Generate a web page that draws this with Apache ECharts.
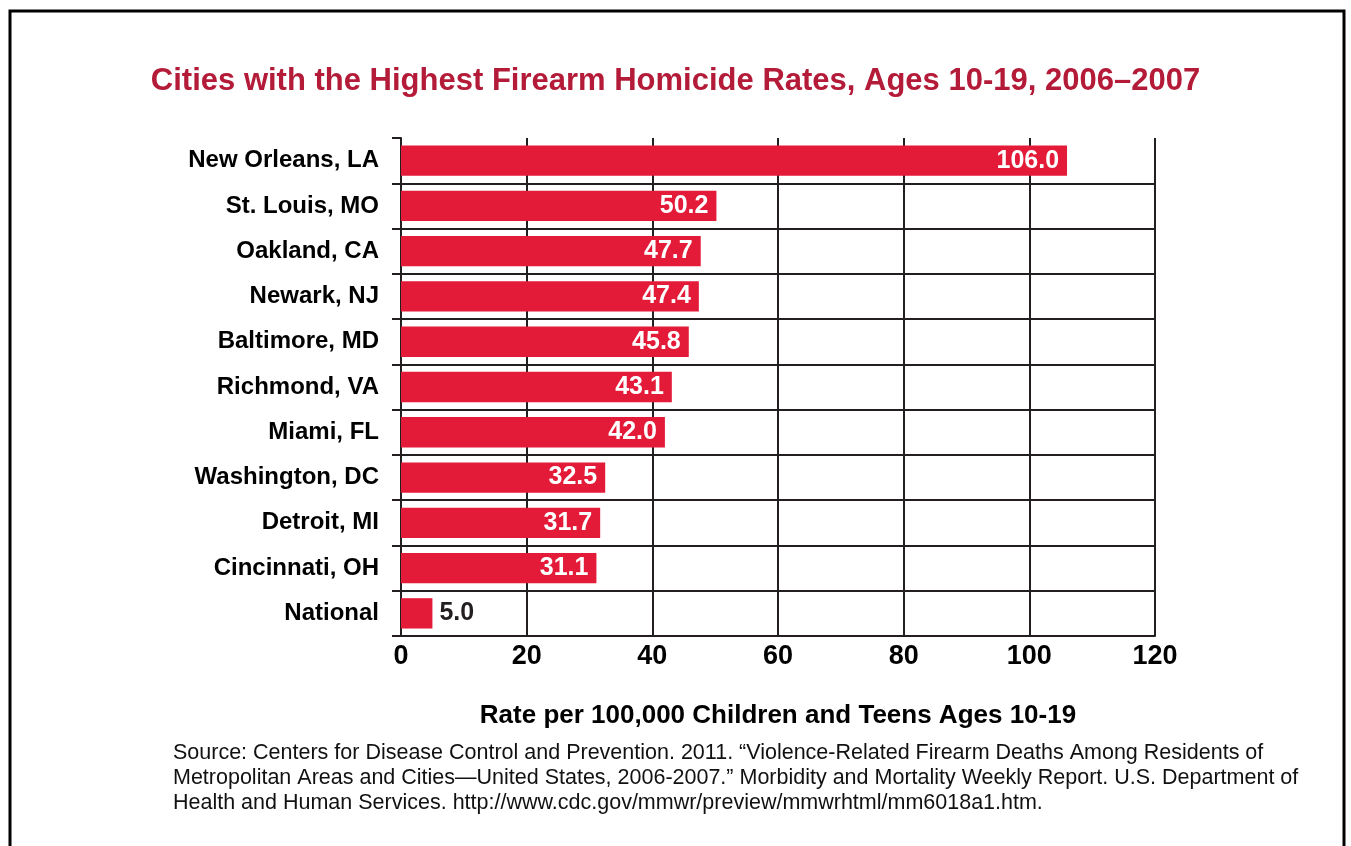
<!DOCTYPE html>
<html><head><meta charset="utf-8">
<script src="https://cdn.jsdelivr.net/npm/echarts@6/dist/echarts.min.js"></script>
<style>html,body{margin:0;padding:0;background:#fff}#c{width:1351px;height:846px}</style>
</head><body><div id="c"></div>
<script>
const categories = ['New Orleans, LA','St. Louis, MO','Oakland, CA','Newark, NJ','Baltimore, MD','Richmond, VA','Miami, FL','Washington, DC','Detroit, MI','Cincinnati, OH','National'];
const rates = [106.0, 50.2, 47.7, 47.4, 45.8, 43.1, 42.0, 32.5, 31.7, 31.1, 5.0];
const xTicks = {min: 0, max: 120, interval: 20};
const titleText = 'Cities with the Highest Firearm Homicide Rates, Ages 10-19, 2006\u20132007';
const axisTitle = 'Rate per 100,000 Children and Teens Ages 10-19';
const sourceLines = [
  'Source: Centers for Disease Control and Prevention. 2011. \u201cViolence-Related Firearm Deaths Among Residents of',
  'Metropolitan Areas and Cities\u2014United States, 2006-2007.\u201d Morbidity and Mortality Weekly Report. U.S. Department of',
  'Health and Human Services. http://www.cdc.gov/mmwr/preview/mmwrhtml/mm6018a1.htm.'
];
const FONT = '"Liberation Sans",Arial,sans-serif';
const RED = '#e31a38', DARK = '#231f20';
const chart = echarts.init(document.getElementById('c'));
chart.setOption({
  animation: false,
  title: {text: titleText, left: 'center', top: 61, textStyle: {color: '#b31b38', fontFamily: FONT, fontWeight: 'bold', fontSize: 31}},
  grid: {left: 401, right: 196, top: 138, bottom: 210},
  xAxis: {type: 'value', min: xTicks.min, max: xTicks.max, interval: xTicks.interval,
    axisLine: {show: true, lineStyle: {color: DARK, width: 2}}, axisTick: {show: false},
    axisLabel: {color: '#000', fontFamily: FONT, fontWeight: 'bold', fontSize: 27, margin: 7},
    splitLine: {show: true, lineStyle: {color: DARK, width: 2}},
    name: axisTitle, nameLocation: 'middle', nameGap: 67,
    nameTextStyle: {color: '#000', fontFamily: FONT, fontWeight: 'bold', fontSize: 26}},
  yAxis: {type: 'category', data: categories, inverse: true,
    axisLine: {show: true, lineStyle: {color: DARK, width: 2}},
    axisTick: {show: true, length: 9, lineStyle: {color: DARK, width: 2}},
    axisLabel: {color: '#000', fontFamily: FONT, fontWeight: 'bold', fontSize: 24, margin: 22},
    splitLine: {show: true, showMinLine: false, lineStyle: {color: DARK, width: 2}}},
  series: [{type: 'bar', data: rates.map((v, i) => ({value: v,
      label: i === rates.length - 1 ? {position: 'right', color: DARK, distance: 7} : {}})),
    barWidth: '67%', itemStyle: {color: RED},
    label: {show: true, position: 'insideRight', distance: 8, color: '#fff', fontFamily: FONT, fontWeight: 'bold', fontSize: 25,
      formatter: p => p.value.toFixed(1)}}],
  graphic: [
    {type: 'rect', shape: {x: 10, y: 11, width: 1334, height: 900}, style: {fill: 'none', stroke: '#000', lineWidth: 3}, silent: true},
    ...sourceLines.map((t, i) => ({type: 'text', left: 173, top: 742 + i * 25,
      style: {text: t, fill: '#111', font: '21.5px ' + FONT}}))
  ]
});
</script></body></html>
